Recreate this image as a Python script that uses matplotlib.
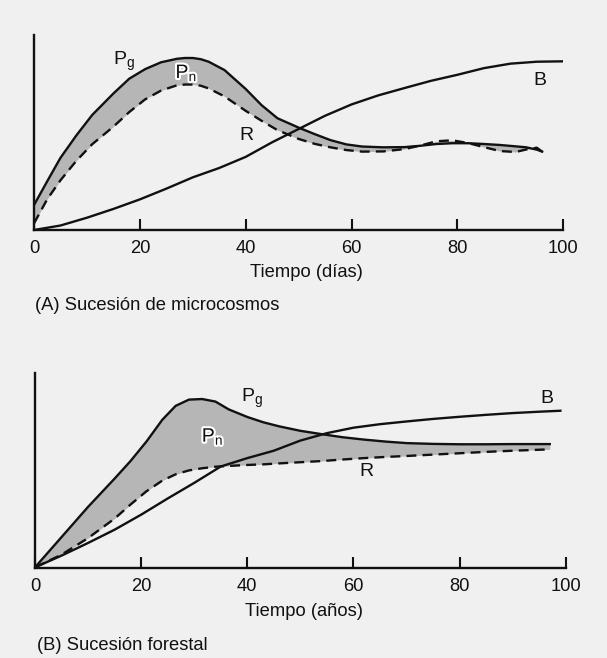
import matplotlib
matplotlib.use("Agg")
import matplotlib.pyplot as plt
import matplotlib.patheffects as pe

plt.rcParams['font.family'] = ['Liberation Sans', 'DejaVu Sans']
plt.rcParams['mathtext.fontset'] = 'custom'
plt.rcParams['mathtext.rm'] = 'Liberation Sans'
plt.rcParams['mathtext.it'] = 'Liberation Sans'

# ---------------- Panel A: microcosm succession (days) ----------------
a_x = [0, 2.5, 5, 8, 11, 15, 18, 21, 24, 27, 28.5, 30, 31.5, 33, 36, 40, 43, 46, 50,
       53, 56, 59, 62, 66, 70, 73, 76, 79, 82, 85, 88, 91, 93, 95, 96]
a_pg = [12.8, 25, 37, 48.5, 59, 70, 77.6, 82.5, 86, 87.8, 88.2, 88.2, 87.6, 86.3, 82,
        72.3, 64, 57.3, 52.5, 49.2, 46.1, 43.9, 42.8, 42.4, 42.5, 43.2, 44.1, 44.5,
        44.5, 44.1, 43.6, 42.9, 42.4, 41.2, 40.2]
a_r = [3.4, 15.8, 25.5, 35.5, 44, 53, 60.5, 67, 71.5, 74.2, 74.6, 74.6, 74.0, 72.6,
       68.5, 61.1, 56, 51.2, 46.7, 44.2, 42.4, 41, 40.2, 40.3, 41.5, 43.3, 45.5, 46.0,
       44.6, 42.5, 40.5, 40.0, 41.3, 42.2, 40.2]
a_bx = [0, 5, 10, 15, 20, 25, 30, 35, 40, 45, 50, 55, 60, 65, 70, 75, 80, 85, 90, 95, 100]
a_b = [0, 2.3, 6.3, 10.8, 15.7, 21.2, 27.0, 31.8, 37.5, 45, 51.8, 58.6, 64.4, 69,
       72.8, 76.5, 79.6, 83.0, 85.3, 86.3, 86.5]

# ---------------- Panel B: forest succession (years) ----------------
b_x = [0, 5, 10, 15, 18, 21, 24, 26.5, 29, 31.5, 34, 36.5, 40, 43, 46, 50, 54, 58,
       62, 66, 70, 75, 80, 85, 90, 95, 97]
b_pg = [0.5, 16, 31.5, 46, 55, 65, 76.2, 83.3, 86.5, 86.8, 85.5, 81.5, 77.6, 74.9,
        72.8, 70.5, 68.8, 67.2, 66, 65, 64.2, 63.8, 63.6, 63.6, 63.7, 63.7, 63.7]
b_r = [0.5, 7, 15.5, 25.5, 32.7, 39.5, 45, 48.2, 50.2, 51.3, 52.1, 52.5, 53, 53.3,
       53.8, 54.4, 55, 55.8, 56.5, 57.1, 57.6, 58.3, 59, 59.7, 60.3, 60.8, 61.0]
b_bx = [0, 5, 10, 15, 20, 25, 30, 35, 40, 45, 50, 55, 60, 65, 70, 75, 80, 85, 90, 95, 99]
b_b = [0.5, 6.5, 13, 19.8, 27.5, 35.8, 43.8, 52.2, 56.5, 60.3, 65.5, 69.3, 72.1,
       73.9, 75.3, 76.6, 77.7, 78.7, 79.6, 80.3, 80.8]

xticks = [0, 20, 40, 60, 80, 100]
xlabels = ["Tiempo (días)", "Tiempo (años)"]
captions = ["(A) Sucesión de microcosmos", "(B) Sucesión forestal"]

BG = '#f0f0f0'
FILL = '#b6b6b6'
INK = '#111111'
FS = 13.2
LFS = 14

fig = plt.figure(figsize=(6.07, 6.58), dpi=100, facecolor=BG)

axA = fig.add_axes([34 / 607, 1 - 230 / 658, 529.3 / 607, 195 / 658])
axB = fig.add_axes([35 / 607, 1 - 568.3 / 658, 530.7 / 607, 195 / 658])


def style(ax):
    ax.set_facecolor('none')
    ax.set_xlim(0, 100)
    ax.set_ylim(0, 100)
    for s in ['top', 'right']:
        ax.spines[s].set_visible(False)
    for s in ['left', 'bottom']:
        ax.spines[s].set_linewidth(1.7)
        ax.spines[s].set_color(INK)
    ax.set_yticks([])
    ax.set_xticks(xticks)
    ax.set_xticklabels([str(t) for t in xticks])
    ax.tick_params(axis='x', direction='in', length=8, width=1.5, color=INK,
                   labelsize=FS, pad=7, labelcolor=INK)


def draw(ax, x, pg, r, bx, b):
    ax.fill_between(x, pg, r, color=FILL, lw=0, zorder=1)
    ax.plot(x, pg, color=INK, lw=1.7, solid_joinstyle='round', zorder=3)
    ax.plot(x, r, color=INK, lw=1.7, dashes=(4.2, 2.6), zorder=3)
    ax.plot(bx, b, color=INK, lw=1.7, solid_joinstyle='round', zorder=3)


style(axA)
style(axB)
draw(axA, a_x, a_pg, a_r, a_bx, a_b)
draw(axB, b_x, b_pg, b_r, b_bx, b_b)

halo = [pe.withStroke(linewidth=3, foreground='white')]

# panel A labels
axA.text(17, 86.3, r'P$_\mathregular{g}$', fontsize=LFS, ha='center', va='center', color=INK)
axA.text(28.8, 80.5, r'P$_\mathregular{n}$', fontsize=LFS, ha='center', va='center',
         color=INK, path_effects=halo, zorder=5)
axA.text(40.2, 48.7, 'R', fontsize=LFS, ha='center', va='center', color=INK)
axA.text(95.6, 76.9, 'B', fontsize=LFS, ha='center', va='center', color=INK)

# panel B labels
axB.text(40.8, 87.2, r'P$_\mathregular{g}$', fontsize=LFS, ha='center', va='center', color=INK)
axB.text(33.5, 67.5, r'P$_\mathregular{n}$', fontsize=LFS, ha='center', va='center',
         color=INK, path_effects=halo, zorder=5)
axB.text(62.5, 49.5, 'R', fontsize=LFS, ha='center', va='center', color=INK)
axB.text(96.4, 87.2, 'B', fontsize=LFS, ha='center', va='center', color=INK)

# axis labels and captions
fig.text(306 / 607, 1 - 272 / 658, xlabels[0], fontsize=FS, ha='center', va='center', color=INK)
fig.text(304 / 607, 1 - 612 / 658, xlabels[1], fontsize=FS, ha='center', va='center', color=INK)
fig.text(35 / 607, 1 - 306 / 658, captions[0], fontsize=FS, ha='left', va='center', color=INK)
fig.text(37 / 607, 1 - 646 / 658, captions[1], fontsize=FS, ha='left', va='center', color=INK)

fig.savefig('out.png', dpi=100, facecolor=BG)
